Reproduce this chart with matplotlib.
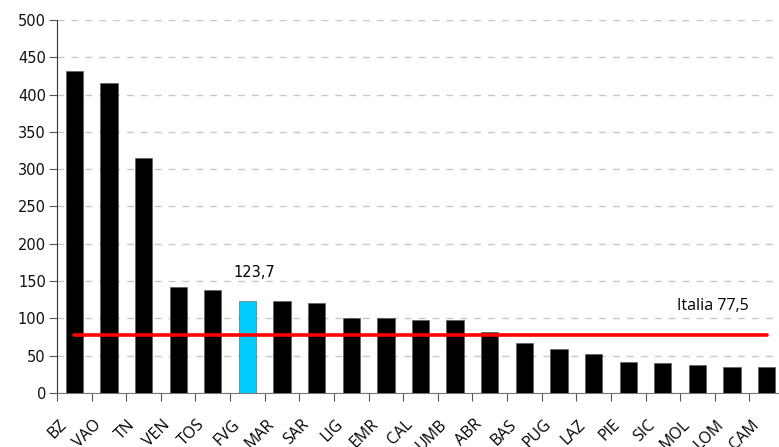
import matplotlib
matplotlib.use("Agg")
import matplotlib.pyplot as plt
from matplotlib.transforms import ScaledTranslation

regions = ["BZ", "VAO", "TN", "VEN", "TOS", "FVG", "MAR", "SAR", "LIG", "EMR",
           "CAL", "UMB", "ABR", "BAS", "PUG", "LAZ", "PIE", "SIC", "MOL", "LOM", "CAM"]
values = [432, 415, 315, 141.7, 138, 123.7, 122.9, 121, 101, 101,
          97.4, 97.4, 82.2, 67, 58.5, 51.8, 41.5, 39.7, 38, 34.8, 34.8]
highlight = "FVG"
italia = 77.5
yticks = [0, 50, 100, 150, 200, 250, 300, 350, 400, 450, 500]

fig = plt.figure(figsize=(7.79, 4.47), dpi=100)
ax = fig.add_axes([57 / 779, 54 / 447, 727 / 779, 373 / 447])

x = list(range(len(regions)))
colors = ["#00ccff" if r == highlight else "black" for r in regions]
ax.bar(x, values, width=0.5, color=colors, edgecolor="#555555", linewidth=0.4, zorder=3)

# national average line, from first to last bar centre
ax.plot([x[0], x[-1]], [italia, italia], color="red", linewidth=2.6, zorder=4,
        solid_capstyle="round")

ax.set_xlim(-0.5, len(regions) - 0.5)
ax.set_ylim(0, 500)
ax.set_yticks(yticks)
ax.set_yticklabels([str(v) for v in yticks], fontsize=10.5, family="DejaVu Sans",
                   color="#111111")
ax.yaxis.grid(True, linestyle=(0, (5, 5)), color="#c8c8c8", linewidth=1, zorder=0)
ax.set_axisbelow(True)

# category ticks sit between the bars
ax.set_xticks([i - 0.5 for i in x] + [len(regions) - 0.5], minor=False)
ax.set_xticklabels([])
ax.set_xticks(x, minor=True)
ax.set_xticklabels(regions, minor=True, rotation=45, ha="right",
                   rotation_mode="anchor", fontsize=11.5, family="Open Sans")
ax.tick_params(axis="x", which="minor", length=0, pad=17)
for lbl in ax.get_xticklabels(minor=True):
    lbl.set_transform(lbl.get_transform() + ScaledTranslation(-0.16, 0, fig.dpi_scale_trans))
ax.tick_params(axis="x", which="major", length=6, color="#555555")
ax.tick_params(axis="y", length=6, color="#555555", pad=2)

for side in ("top", "right"):
    ax.spines[side].set_visible(False)
ax.spines["left"].set_color("#333333")
ax.spines["bottom"].set_color("#777777")

hi = regions.index(highlight)
ax.text(hi + 0.2, 162, "123,7", ha="center", va="center", fontsize=10.5,
        family="DejaVu Sans")
ax.text(18.45, 116, "Italia 77,5", ha="center", va="center", fontsize=11.5,
        family="Open Sans")

fig.savefig("out.png", dpi=100)
